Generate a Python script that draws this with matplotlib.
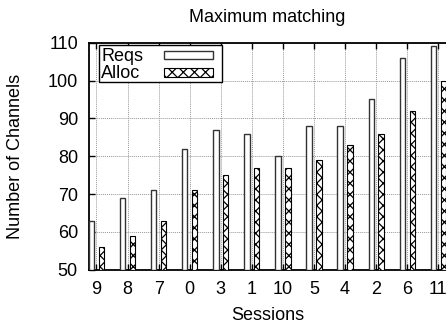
import numpy as np
import matplotlib
matplotlib.use('Agg')
import matplotlib.pyplot as plt
from matplotlib.patches import Rectangle

plt.rcParams['font.family'] = ['Liberation Sans', 'DejaVu Sans']
plt.rcParams['hatch.linewidth'] = 0.9

sessions = ['9', '8', '7', '0', '3', '1', '10', '5', '4', '2', '6', '11']
reqs = [63, 69, 71, 82, 87, 86, 80, 88, 88, 95, 106, 109]
alloc = [56, 59, 63, 71, 75, 77, 77, 79, 83, 86, 92, 100]
yticks = [50, 60, 70, 80, 90, 100, 110]

ind = np.arange(len(sessions))
width = 0.17
fs = 13

fig = plt.figure(figsize=(4.46, 3.24), dpi=100)
ax = fig.add_axes([89 / 446, 1 - 269.7 / 324, 364.6 / 446, 227 / 324])

req_style = dict(facecolor='white', edgecolor='#333333', linewidth=1.0)
alloc_style = dict(facecolor='white', edgecolor='black', linewidth=0.8, hatch='xxx')

ax.bar(ind - 0.155, np.array(reqs) - 50, width, bottom=50, zorder=3, **req_style)
ax.bar(ind + 0.165, np.array(alloc) - 50, width, bottom=50, zorder=3, **alloc_style)

ax.set_xlim(-0.24, 11.5)
ax.set_ylim(50, 110)
ax.set_xticks(ind)
ax.set_xticklabels(sessions)
ax.set_yticks(yticks)
ax.tick_params(direction='in', top=True, right=True, length=4, width=1,
               labelsize=fs)
ax.tick_params(axis='x', pad=8)
ax.tick_params(axis='y', pad=8)
ax.grid(True, color='#999999', linestyle=(0, (1, 1)), linewidth=0.7, zorder=0)
for s in ax.spines.values():
    s.set_linewidth(1.3)

ax.set_title('Maximum matching', fontsize=fs, x=0.49, pad=15)
ax.set_xlabel('Sessions', fontsize=fs)
ax.set_ylabel('Number of Channels', fontsize=fs)
ax.xaxis.set_label_coords(0.49, -0.164)
ax.yaxis.set_label_coords(-0.178, 0.5)

# gnuplot style key: label on the left, sample box on the right
tr = ax.transAxes
ax.add_patch(Rectangle((0.0274, 0.827), 0.3374, 0.163, transform=tr,
                       facecolor='white', edgecolor='black', linewidth=1.0, zorder=5))
ax.text(0.033, 0.921, 'Reqs', transform=tr, fontsize=fs, va='baseline', zorder=6)
ax.text(0.033, 0.843, 'Alloc', transform=tr, fontsize=fs, va='baseline', zorder=6)
ax.add_patch(Rectangle((0.2058, 0.9282), 0.1344, 0.0352, transform=tr,
                       zorder=6, **req_style))
ax.add_patch(Rectangle((0.2058, 0.8502), 0.1344, 0.0397, transform=tr,
                       zorder=6, **alloc_style))

fig.savefig('out.png', dpi=100)
